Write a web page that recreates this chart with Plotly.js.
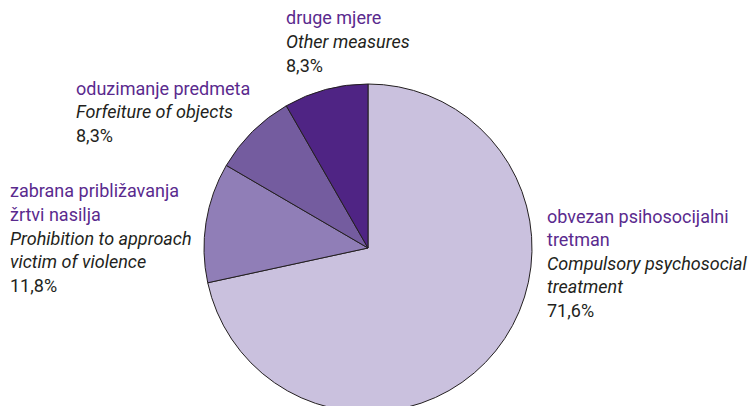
<!DOCTYPE html>
<html><head><meta charset="utf-8">
<script src="https://cdn.plot.ly/plotly-3.0.1.min.js"></script>
<style>html,body{margin:0;padding:0;overflow:hidden;background:#fff;width:749px;height:406px}</style>
</head><body><div id="chart" style="width:749px;height:430px"></div>
<script>
const categoriesHr = ["obvezan psihosocijalni tretman","zabrana približavanja žrtvi nasilja","oduzimanje predmeta","druge mjere"];
const categoriesEn = ["Compulsory psychosocial treatment","Prohibition to approach victim of violence","Forfeiture of objects","Other measures"];
const values = [71.6, 11.8, 8.3, 8.3];
const valueLabels = ["71,6%","11,8%","8,3%","8,3%"];
const colors = ["#cac1de","#907eb7","#745c9f","#4f2484"];

const W = 749, H = 430;
const purple = "#5a2a8e", dark = "#231f20";
const FONT = "Roboto, Arial, sans-serif";
const FS = 18;

const blocks = [
  {x: 545, y: 216, lines: [["obvezan psihosocijalni","hr"],["tretman","hr"],["Compulsory psychosocial","en"],["treatment","en"],[valueLabels[0],"v"]]},
  {x: 8, y: 191, lines: [["zabrana približavanja","hr"],["žrtvi nasilja","hr"],["Prohibition to approach","en"],["victim of violence","en"],[valueLabels[1],"v"]]},
  {x: 74, y: 88, lines: [[categoriesHr[2],"hr"],[categoriesEn[2],"en"],[valueLabels[2],"v"]]},
  {x: 284, y: 18, lines: [[categoriesHr[3],"hr"],[categoriesEn[3],"en"],[valueLabels[3],"v"]]}
];
const LH = 23.5;
const annotations = [];
blocks.forEach(b => {
  b.lines.forEach((ln, i) => {
    const kind = ln[1];
    annotations.push({
      xref: "paper", yref: "paper",
      x: b.x / W, y: 1 - (b.y + i * LH) / H,
      xanchor: "left", yanchor: "middle",
      showarrow: false,
      text: kind === "en" ? "<i>" + ln[0] + "</i>" : ln[0],
      font: {family: FONT, size: FS, color: kind === "hr" ? purple : dark}
    });
  });
});

const trace = {
  type: "pie",
  labels: categoriesEn,
  values: values,
  sort: false,
  direction: "clockwise",
  rotation: 0,
  textinfo: "none",
  hoverinfo: "label+percent",
  marker: {colors: colors, line: {color: dark, width: 1}},
  domain: {x: [204 / W, 532 / W], y: [1 - 412 / H, 1 - 84 / H]}
};

Plotly.newPlot("chart", [trace], {
  width: W, height: H,
  margin: {l: 0, r: 0, t: 0, b: 0},
  showlegend: false,
  paper_bgcolor: "#fff",
  annotations: annotations
}, {displayModeBar: false, staticPlot: true});
</script>
</body></html>
